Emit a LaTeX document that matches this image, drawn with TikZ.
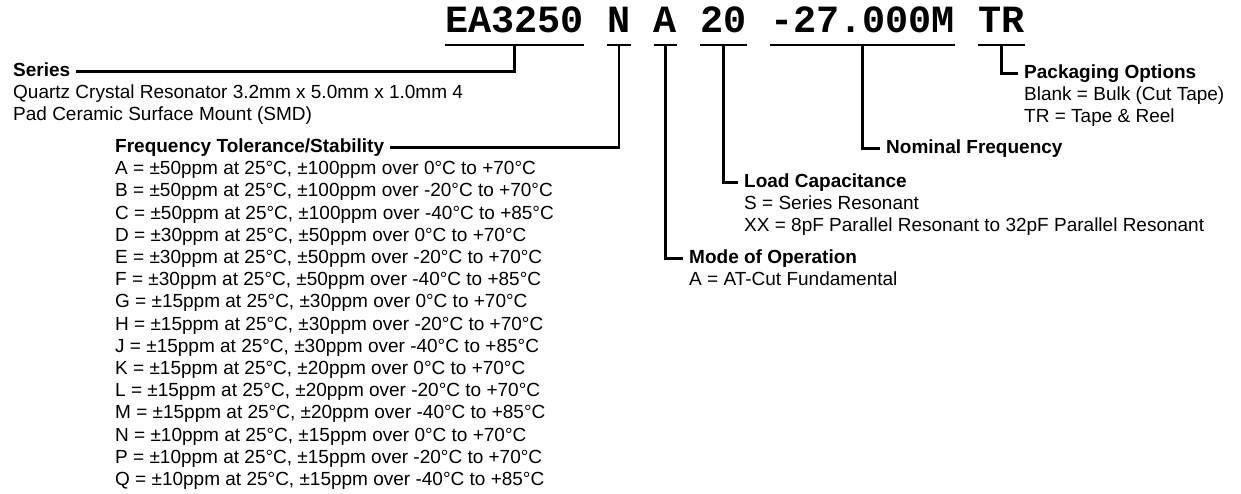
\documentclass[tikz,border=0pt]{standalone}
\usepackage{fontspec}
\setmainfont{Liberation Sans}
\newfontfamily\monofam{Liberation Mono}
\usetikzlibrary{positioning}
\newcommand{\codefont}{\monofam\bfseries\fontsize{38.5}{40}\selectfont}
\newcommand{\headfont}{\bfseries\fontsize{19}{22.2}\selectfont}
\newcommand{\bodyfont}{\fontsize{19}{22.2}\selectfont}
\newcommand{\drawlead}{\draw[line width=2.6pt]}

\begin{document}
\begin{tikzpicture}[x=1pt,y=-1pt,
    code/.style={font=\codefont,inner sep=0pt,anchor=base west},
    head/.style={font=\headfont,inner xsep=6pt,inner ysep=0pt,text height=9pt,text depth=0pt,anchor=base west},
    desc/.style={font=\bodyfont,inner xsep=6pt,inner ysep=0pt,align=left,below=6.7pt of #1.south west,anchor=north west}]
\useasboundingbox (0,0) rectangle (1241,493);
% part number
\node[code] (ser) at (445,32) {EA3250};
\node[code,base right=23.1pt of ser] (tol) {N};
\node[code,base right=23.1pt of tol] (mode) {A};
\node[code,base right=23.1pt of mode] (load) {20};
\node[code,base right=23.1pt of load] (freq) {-27.000M};
\node[code,base right=23.1pt of freq] (pack) {TR};
\foreach \c in {ser,tol,mode,load,freq,pack}{
    \drawlead ([yshift=-13pt]\c.base west)--([yshift=-13pt]\c.base east);
    \coordinate (\c-b) at ([yshift=-13pt]\c.base);
}
% fields
\node[head] (serlab) at (7,76) {Series};
\node[desc=serlab] (serdesc) {\strut Quartz Crystal Resonator 3.2mm x 5.0mm x 1.0mm 4\\
    \strut Pad Ceramic Surface Mount (SMD)};
\node[head] (tollab) at (109,152) {Frequency Tolerance/Stability};
\node[desc=tollab] (toldesc) {\strut A = ±50ppm at 25°C, ±100ppm over 0°C to +70°C\\
    \strut B = ±50ppm at 25°C, ±100ppm over -20°C to +70°C\\
    \strut C = ±50ppm at 25°C, ±100ppm over -40°C to +85°C\\
    \strut D = ±30ppm at 25°C, ±50ppm over 0°C to +70°C\\
    \strut E = ±30ppm at 25°C, ±50ppm over -20°C to +70°C\\
    \strut F = ±30ppm at 25°C, ±50ppm over -40°C to +85°C\\
    \strut G = ±15ppm at 25°C, ±30ppm over 0°C to +70°C\\
    \strut H = ±15ppm at 25°C, ±30ppm over -20°C to +70°C\\
    \strut J = ±15ppm at 25°C, ±30ppm over -40°C to +85°C\\
    \strut K = ±15ppm at 25°C, ±20ppm over 0°C to +70°C\\
    \strut L = ±15ppm at 25°C, ±20ppm over -20°C to +70°C\\
    \strut M = ±15ppm at 25°C, ±20ppm over -40°C to +85°C\\
    \strut N = ±10ppm at 25°C, ±15ppm over 0°C to +70°C\\
    \strut P = ±10ppm at 25°C, ±15ppm over -20°C to +70°C\\
    \strut Q = ±10ppm at 25°C, ±15ppm over -40°C to +85°C};
\node[head] (modelab) at (683,263) {Mode of Operation};
\node[desc=modelab] (modedesc) {\strut A = AT-Cut Fundamental};
\node[head] (loadlab) at (738,187) {Load Capacitance};
\node[desc=loadlab] (loaddesc) {\strut S = Series Resonant\\
    \strut XX = 8pF Parallel Resonant to 32pF Parallel Resonant};
\node[head] (freqlab) at (880,153) {Nominal Frequency};
\node[head] (packlab) at (1018,78) {Packaging Options};
\node[desc=packlab] (packdesc) {\strut Blank = Bulk (Cut Tape)\\
    \strut TR = Tape \& Reel};
% leads
\drawlead (ser-b) |- (serlab);
\drawlead (tol-b) |- (tollab);
\drawlead (mode-b) |- (modelab);
\drawlead (load-b) |- (loadlab);
\drawlead (freq-b) |- (freqlab);
\drawlead (pack-b) |- (packlab);
\end{tikzpicture}
\end{document}
